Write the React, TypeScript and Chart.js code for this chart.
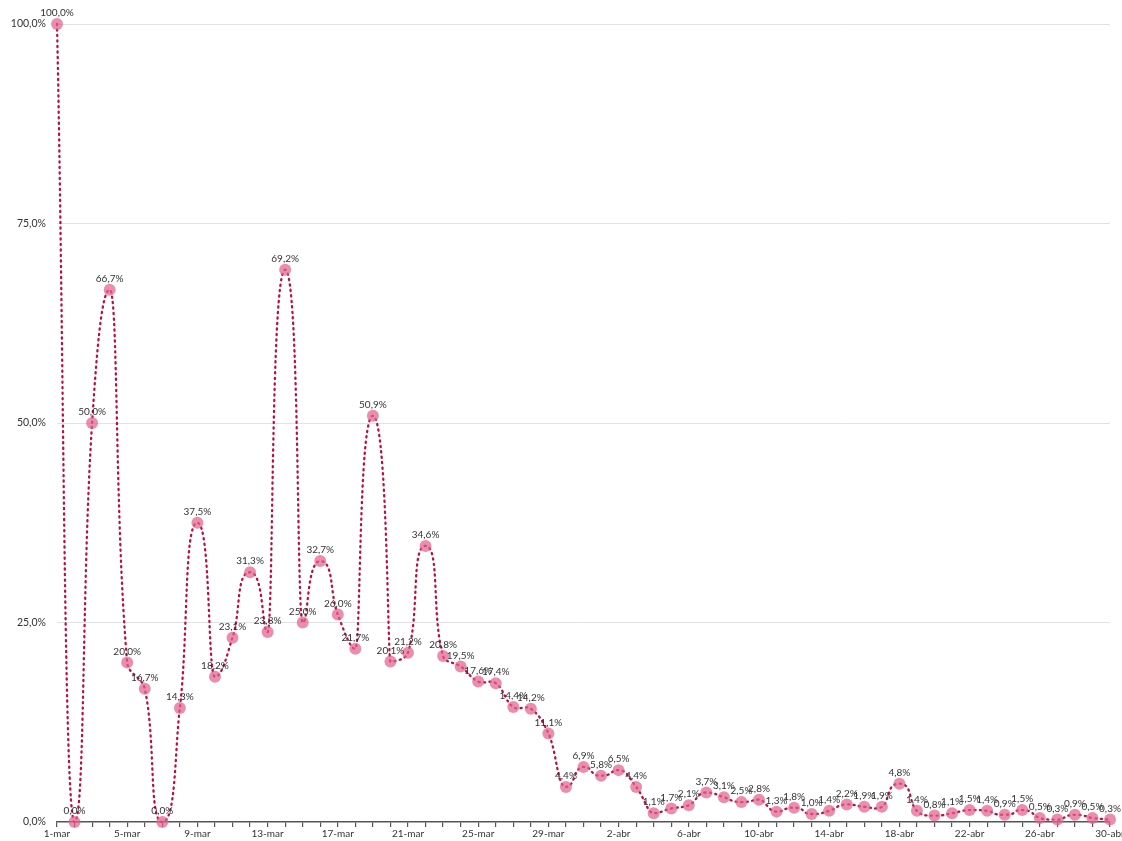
import React, { useEffect, useRef } from "react";
import { Chart, registerables } from "chart.js";

Chart.register(...registerables);

const categories = [
  "1-mar", "2-mar", "3-mar", "4-mar", "5-mar", "6-mar", "7-mar", "8-mar", "9-mar", "10-mar",
  "11-mar", "12-mar", "13-mar", "14-mar", "15-mar", "16-mar", "17-mar", "18-mar", "19-mar", "20-mar",
  "21-mar", "22-mar", "23-mar", "24-mar", "25-mar", "26-mar", "27-mar", "28-mar", "29-mar", "30-mar",
  "31-mar", "1-abr", "2-abr", "3-abr", "4-abr", "5-abr", "6-abr", "7-abr", "8-abr", "9-abr",
  "10-abr", "11-abr", "12-abr", "13-abr", "14-abr", "15-abr", "16-abr", "17-abr", "18-abr", "19-abr",
  "20-abr", "21-abr", "22-abr", "23-abr", "24-abr", "25-abr", "26-abr", "27-abr", "28-abr", "29-abr",
  "30-abr",
];

const marchValues = [
  100.0, 0.0, 50.0, 66.7, 20.0, 16.7, 0.0, 14.3, 37.5, 18.2,
  23.1, 31.3, 23.8, 69.2, 25.0, 32.7, 26.0, 21.7, 50.9, 20.1,
  21.2, 34.6, 20.8, 19.5, 17.6, 17.4, 14.4, 14.2, 11.1, 4.4,
  6.9,
];

const aprilValues = [
  5.8, 6.5, 4.4, 1.1, 1.7, 2.1, 3.7, 3.1, 2.5, 2.8,
  1.3, 1.8, 1.0, 1.4, 2.2, 1.9, 1.9, 4.8, 1.4, 0.8,
  1.1, 1.5, 1.4, 0.9, 1.5, 0.5, 0.3, 0.9, 0.5, 0.3,
];

const seriesValues = [...marchValues, ...aprilValues];

const yTicks = [0, 25, 50, 75, 100];

const FONT = "Lato, 'Open Sans', sans-serif";

const fmt = (v: number) => v.toFixed(1).replace(".", ",") + "%";

// Rounder peaks/valleys: at local extremes make the tangent horizontal with longer arms
const EXT = 0.85;
const roundExtremesPlugin = {
  id: "roundExtremes",
  beforeDatasetDraw(chart: any, args: any) {
    const meta = args.meta;
    const line = meta.dataset;
    if (!line) return;
    if (line.updateControlPoints) line.updateControlPoints(chart.chartArea, "x");
    const pts = meta.data;
    for (let i = 1; i < pts.length - 1; i++) {
      const p = pts[i];
      const a = pts[i - 1];
      const b = pts[i + 1];
      const d0 = a.y - p.y;
      const d1 = b.y - p.y;
      if (d0 * d1 > 0) {
        const r = Math.min(Math.abs(d0), Math.abs(d1)) / Math.max(Math.abs(d0), Math.abs(d1));
        const f = EXT * Math.sqrt(r);
        p.cp1x = p.x - f * (p.x - a.x);
        p.cp1y = p.y;
        p.cp2x = p.x + f * (b.x - p.x);
        p.cp2y = p.y;
      }
    }
    line._path = undefined;
  },
};

const dataLabelPlugin = {
  id: "dataLabels",
  afterDatasetsDraw(chart: any) {
    const ctx = chart.ctx;
    const meta = chart.getDatasetMeta(0);
    ctx.save();
    ctx.font = `10px ${FONT}`;
    ctx.fillStyle = "#333";
    ctx.textAlign = "center";
    ctx.textBaseline = "bottom";
    meta.data.forEach((pt: any, i: number) => {
      const v = chart.data.datasets[0].data[i];
      ctx.fillText(fmt(v), pt.x, pt.y - 6);
    });
    ctx.restore();
  },
};

export default function App() {
  const ref = useRef<HTMLCanvasElement>(null);

  useEffect(() => {
    if (!ref.current) return;
    const chart = new Chart(ref.current, {
      type: "line",
      data: {
        labels: categories,
        datasets: [
          {
            data: seriesValues,
            borderColor: "rgb(185, 16, 68)",
            borderWidth: 2.3,
            borderDash: [1.2, 4.3],
            borderCapStyle: "round",
            tension: 0.4,
            fill: false,
            clip: false as any,
            pointRadius: 6,
            pointHoverRadius: 6,
            pointBorderWidth: 0,
            pointBackgroundColor: "rgba(226, 98, 140, 0.72)",
          },
        ],
      },
      options: {
        animation: false,
        responsive: false,
        maintainAspectRatio: false,
        elements: { line: { capBezierPoints: false } },
        layout: { padding: { top: 24, right: 12, left: 0, bottom: 0 } },
        plugins: {
          legend: { display: false },
          tooltip: { enabled: false },
          title: { display: false },
        },
        scales: {
          x: {
            offset: false,
            border: { display: true, color: "#555", width: 1.5 },
            grid: {
              drawOnChartArea: false,
              drawTicks: true,
              tickLength: 5,
              color: "#555",
              lineWidth: 1.2,
            },
            ticks: {
              autoSkip: false,
              maxRotation: 0,
              padding: 1,
              color: "#333",
              font: { family: FONT, size: 10 },
              callback: (_v: any, i: number) => (i % 4 === 0 ? categories[i] : ""),
            },
            afterFit: (s: any) => {
              s.height = 19;
              s.paddingLeft = 0;
              s.paddingRight = 0;
            },
          },
          y: {
            min: 0,
            max: 100,
            border: { display: false },
            grid: {
              drawTicks: false,
              color: (c: any) => (c.tick && c.tick.value === 0 ? "rgba(0,0,0,0)" : "#e2e2e2"),
              lineWidth: 1,
            },
            afterBuildTicks: (s: any) => {
              s.ticks = yTicks.map((v) => ({ value: v }));
            },
            ticks: {
              padding: 11,
              color: "#333",
              font: { family: FONT, size: 10.5 },
              callback: (v: any) => fmt(Number(v)),
            },
            afterFit: (s: any) => {
              s.width = 57;
            },
          },
        },
      },
      plugins: [roundExtremesPlugin, dataLabelPlugin],
    });
    return () => chart.destroy();
  }, []);

  return (
    <div style={{ position: "fixed", left: 0, top: 0, width: 1122, height: 841, background: "#fff" }}>
      <canvas ref={ref} width={1122} height={841} style={{ width: 1122, height: 841 }} />
    </div>
  );
}
